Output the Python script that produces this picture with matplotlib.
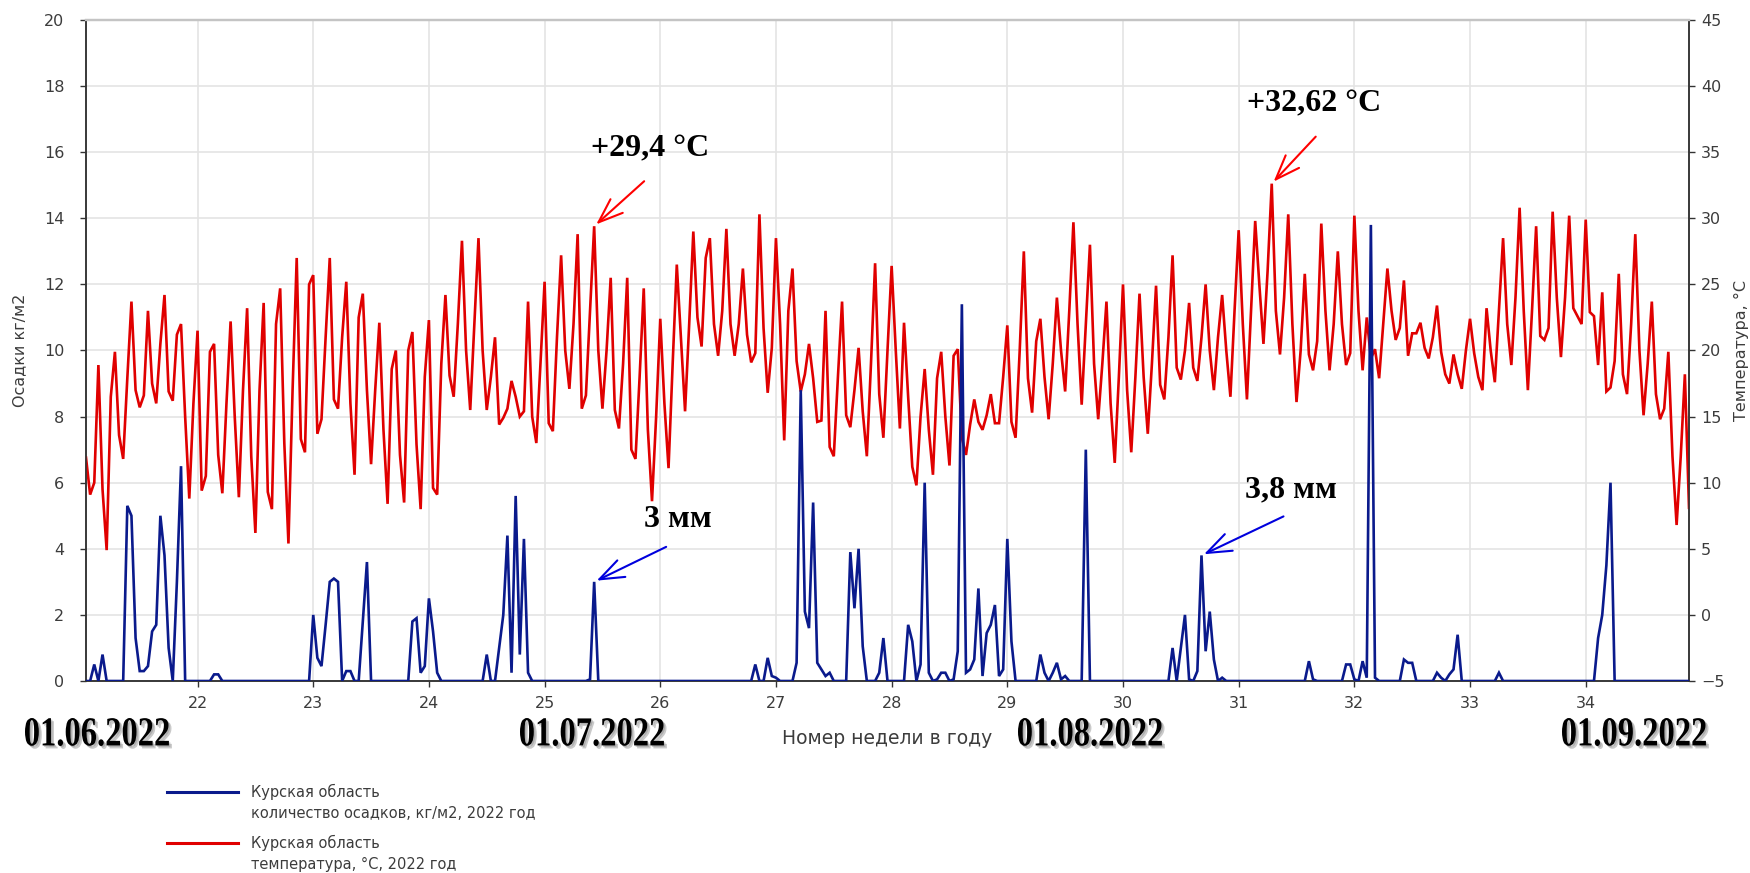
import numpy as np
import matplotlib
matplotlib.use("Agg")
import matplotlib.pyplot as plt
import matplotlib.transforms as mtransforms
from matplotlib.textpath import TextPath
from matplotlib.patches import PathPatch
from matplotlib.font_manager import FontProperties
from matplotlib.lines import Line2D

# ---------------------------------------------------------------------------
#  Data: Курская область, summer 2022, four observations per day
# ---------------------------------------------------------------------------
FIRST_WEEK = 21
OBS_PER_WEEK = 28

# air temperature, °C (one row = one day)
TEMP_C = [
    11.9, 9.1, 10.0, 18.9,
    9.5, 4.9, 16.5, 19.9,
    13.6, 11.8, 17.9, 23.7,
    17.0, 15.7, 16.6, 23.0,
    17.5, 16.0, 20.5, 24.2,
    16.9, 16.2, 21.2, 22.0,
    15.0, 8.8, 16.0, 21.5,
    9.4, 10.5, 19.9, 20.5,
    12.1, 9.2, 16.0, 22.2,
    15.0, 8.9, 17.0, 23.2,
    12.0, 6.2, 17.0, 23.6,
    9.3, 8.0, 22.0, 24.7,
    13.0, 5.4, 17.0, 27.0,
    13.3, 12.3, 25.0, 25.7,
    13.7, 14.8, 21.0, 27.0,
    16.3, 15.6, 21.0, 25.2,
    16.0, 10.6, 22.5, 24.3,
    17.0, 11.4, 17.0, 22.1,
    14.0, 8.4, 18.6, 20.0,
    12.1, 8.5, 20.0, 21.4,
    12.9, 8.0, 18.0, 22.3,
    9.6, 9.1, 19.0, 24.2,
    18.1, 16.5, 22.0, 28.3,
    20.0, 15.5, 22.0, 28.5,
    20.0, 15.5, 18.0, 21.0,
    14.4, 14.9, 15.6, 17.7,
    16.5, 15.0, 15.4, 23.7,
    15.0, 13.0, 19.0, 25.2,
    14.5, 13.9, 21.0, 27.2,
    20.0, 17.1, 22.0, 28.8,
    15.6, 16.6, 23.0, 29.4,
    20.0, 15.6, 20.0, 25.5,
    15.5, 14.1, 19.0, 25.5,
    12.5, 11.8, 18.0, 24.7,
    14.0, 8.6, 15.0, 22.4,
    16.0, 11.1, 19.0, 26.5,
    21.0, 15.4, 22.0, 29.0,
    22.5, 20.3, 27.0, 28.5,
    22.0, 19.6, 23.0, 29.2,
    22.0, 19.6, 22.0, 26.2,
    21.2, 19.1, 19.8, 30.3,
    21.7, 16.8, 20.2, 28.5,
    22.0, 13.2, 23.0, 26.2,
    19.2, 16.9, 18.2, 20.5,
    17.9, 14.6, 14.7, 23.0,
    12.7, 12.0, 18.0, 23.7,
    15.1, 14.2, 17.0, 20.2,
    15.4, 12.0, 19.0, 26.6,
    16.7, 13.4, 20.0, 26.4,
    20.0, 14.1, 22.1, 16.5,
    11.2, 9.8, 15.0, 18.6,
    14.0, 10.6, 17.9, 19.9,
    15.0, 11.3, 19.6, 20.1,
    13.4, 12.1, 14.4, 16.3,
    14.6, 14.0, 15.1, 16.7,
    14.5, 14.5, 18.0, 21.9,
    14.6, 13.4, 20.0, 27.5,
    17.9, 15.3, 20.7, 22.4,
    18.0, 14.8, 19.0, 24.0,
    20.0, 16.9, 23.0, 29.7,
    22.0, 15.9, 22.0, 28.0,
    19.0, 14.8, 19.0, 23.7,
    16.0, 11.5, 18.0, 25.0,
    17.0, 12.3, 18.0, 24.3,
    18.0, 13.7, 19.0, 24.9,
    17.4, 16.3, 21.0, 27.2,
    18.7, 17.8, 20.0, 23.6,
    18.7, 17.7, 21.0, 25.0,
    20.0, 17.0, 21.0, 24.2,
    20.0, 16.5, 23.0, 29.1,
    22.0, 16.3, 23.0, 29.8,
    25.0, 20.5, 26.0, 32.62,
    23.0, 19.7, 24.0, 30.3,
    22.0, 16.1, 20.0, 25.8,
    19.7, 18.5, 20.7, 29.6,
    23.0, 18.5, 22.0, 27.5,
    22.0, 18.9, 19.8, 30.2,
    23.0, 18.5, 22.5, 19.4,
    20.1, 17.9, 22.0, 26.2,
    23.0, 20.8, 21.7, 25.3,
    19.6, 21.3, 21.3, 22.1,
    20.2, 19.4, 21.0, 23.4,
    19.9, 18.2, 17.5, 19.7,
    18.2, 17.1, 20.0, 22.4,
    19.8, 18.0, 17.0, 23.2,
    20.0, 17.6, 23.0, 28.5,
    22.0, 18.9, 24.0, 30.8,
    23.0, 17.0, 23.0, 29.4,
    21.1, 20.8, 21.7, 30.5,
    24.0, 19.5, 24.0, 30.2,
    23.2, 22.6, 22.0, 29.9,
    22.9, 22.6, 18.9, 24.4,
    16.9, 17.2, 19.2, 25.8,
    18.2, 16.7, 22.0, 28.8,
    20.0, 15.1, 19.0, 23.7,
    16.7, 14.8, 15.6, 19.9,
    12.0, 6.8, 12.0, 18.2,
    8.1,
]

# precipitation, kg/m2 (one row = one day)
PRECIP_MM = [
    0, 0, 0.5, 0,
    0.8, 0, 0, 0,
    0, 0, 5.3, 5.0,
    1.3, 0.3, 0.3, 0.45,
    1.5, 1.7, 5.0, 3.8,
    1.0, 0, 3.0, 6.5,
    0, 0, 0, 0,
    0, 0, 0, 0.2,
    0.2, 0, 0, 0,
    0, 0, 0, 0,
    0, 0, 0, 0,
    0, 0, 0, 0,
    0, 0, 0, 0,
    0, 0, 0, 2.0,
    0.7, 0.45, 1.7, 3.0,
    3.1, 3.0, 0, 0.3,
    0.3, 0, 0, 1.8,
    3.6, 0, 0, 0,
    0, 0, 0, 0,
    0, 0, 0, 1.8,
    1.9, 0.25, 0.45, 2.5,
    1.5, 0.25, 0, 0,
    0, 0, 0, 0,
    0, 0, 0, 0,
    0, 0.8, 0, 0,
    1.0, 2.0, 4.4, 0.25,
    5.6, 0.8, 4.3, 0.25,
    0, 0, 0, 0,
    0, 0, 0, 0,
    0, 0, 0, 0,
    0, 0, 0.05, 3.0,
    0, 0, 0, 0,
    0, 0, 0, 0,
    0, 0, 0, 0,
    0, 0, 0, 0,
    0, 0, 0, 0,
    0, 0, 0, 0,
    0, 0, 0, 0,
    0, 0, 0, 0,
    0, 0, 0, 0,
    0, 0, 0.5, 0,
    0, 0.7, 0.15, 0.1,
    0, 0, 0, 0,
    0.55, 8.8, 2.1, 1.6,
    5.4, 0.55, 0.35, 0.15,
    0.25, 0, 0, 0,
    0, 3.9, 2.2, 4.0,
    1.05, 0, 0, 0,
    0.25, 1.3, 0, 0,
    0, 0, 0, 1.7,
    1.2, 0, 0.5, 6.0,
    0.25, 0, 0.05, 0.25,
    0.25, 0, 0.05, 0.9,
    11.4, 0.25, 0.35, 0.65,
    2.8, 0.15, 1.45, 1.7,
    2.3, 0.15, 0.35, 4.3,
    1.2, 0, 0, 0,
    0, 0, 0, 0.8,
    0.25, 0, 0.25, 0.55,
    0.05, 0.15, 0, 0,
    0, 0, 7.0, 0,
    0, 0, 0, 0,
    0, 0, 0, 0,
    0, 0, 0, 0,
    0, 0, 0, 0,
    0, 0, 0, 1.0,
    0, 1.0, 2.0, 0.05,
    0, 0.3, 3.8, 0.9,
    2.1, 0.65, 0, 0.1,
    0, 0, 0, 0,
    0, 0, 0, 0,
    0, 0, 0, 0,
    0, 0, 0, 0,
    0, 0, 0, 0,
    0.6, 0.05, 0, 0,
    0, 0, 0, 0,
    0, 0.5, 0.5, 0.05,
    0, 0.6, 0.1, 13.8,
    0.1, 0, 0, 0,
    0, 0, 0, 0.65,
    0.55, 0.55, 0, 0,
    0, 0, 0, 0.25,
    0.1, 0, 0.2, 0.35,
    1.4, 0, 0, 0,
    0, 0, 0, 0,
    0, 0, 0.25, 0,
    0, 0, 0, 0,
    0, 0, 0, 0,
    0, 0, 0, 0,
    0, 0, 0, 0,
    0, 0, 0, 0,
    0, 0, 1.3, 2.0,
    3.5, 6.0, 0, 0,
    0, 0, 0, 0,
    0, 0, 0, 0,
    0, 0, 0, 0,
    0, 0, 0, 0,
    0,
]

WEEK_TICKS = list(range(22, 35))
PRECIP_TICKS = list(range(0, 21, 2))
TEMP_TICKS = list(range(-5, 46, 5))

# callouts: (label, observation number)
TEMP_CALLOUTS = [("+29,4 °C", 124), ("+32,62 °C", 288)]
PRECIP_CALLOUTS = [("3 мм", 124), ("3,8 мм", 271)]

MONTH_LABELS = ["01.06.2022", "01.07.2022", "01.08.2022", "01.09.2022"]

LEGEND_LABELS = [
    "Курская область\nколичество осадков, кг/м2, 2022 год",
    "Курская область\nтемпература, °C, 2022 год",
]

BLUE = "#0a1a8c"
RED = "#e00000"
GRID = "#e4e4e4"
TEXT = "#3c3c3c"

W, H = 1750, 873


def condensed_date(fig, text, left_px, bottom_px, height_px=28, squeeze=0.79):
    """Bold narrow serif caption with a soft grey drop shadow."""
    fp = FontProperties(family="Liberation Serif", weight="bold")
    path = TextPath((0, 0), text, size=100, prop=fp)
    ext = path.get_extents()
    s = height_px / ext.height
    base = mtransforms.Affine2D().translate(-ext.x0, -ext.y0).scale(s * squeeze, s)
    for dx, dy, col, alpha in [(3, -3, "#8a8a8a", 0.45), (1.5, -1.5, "#8a8a8a", 0.45),
                               (0, 0, "black", 1.0)]:
        tr = base + mtransforms.Affine2D().translate(left_px + dx, bottom_px + dy)
        fig.add_artist(PathPatch(path, transform=tr, facecolor=col,
                                 edgecolor="none", alpha=alpha))


def main():
    temp = np.array(TEMP_C)
    precip = np.array(PRECIP_MM)
    obs = np.arange(1, len(temp) + 1)
    week = FIRST_WEEK + obs / OBS_PER_WEEK

    fig = plt.figure(figsize=(W / 100, H / 100), dpi=100)
    ax_t = fig.add_axes([86 / W, 1 - 681 / H, (1689 - 86) / W, (681 - 20) / H])
    ax_p = ax_t.twinx()

    # temperature sits underneath, on the right-hand scale
    ax_t.yaxis.tick_right()
    ax_t.yaxis.set_label_position("right")
    ax_p.yaxis.tick_left()
    ax_p.yaxis.set_label_position("left")

    ax_t.plot(week, temp, color=RED, lw=1.9, solid_joinstyle="miter", zorder=3)
    ax_p.plot(week, precip, color=BLUE, lw=1.9, solid_joinstyle="miter", zorder=3)

    ax_t.set_xlim(week[0], week[-1])
    ax_t.set_ylim(-5, 45)
    ax_p.set_ylim(0, 20)
    ax_t.set_xticks(WEEK_TICKS)
    ax_t.set_yticks(TEMP_TICKS)
    ax_p.set_yticks(PRECIP_TICKS)

    ax_t.set_axisbelow(True)
    ax_t.grid(True, color=GRID, lw=1.2)

    for a in (ax_t, ax_p):
        a.tick_params(axis="both", direction="out", length=4.5, width=1.0,
                      color="#333333", labelcolor=TEXT, labelsize=11.5)
        a.spines["top"].set_color("#c4c4c4")
        a.spines["top"].set_linewidth(1.6)
        for side in ("left", "right", "bottom"):
            a.spines[side].set_color("#333333")
            a.spines[side].set_linewidth(1.1)
    ax_t.tick_params(axis="y", pad=4)
    ax_p.tick_params(axis="y", pad=11)
    ax_t.tick_params(axis="x", pad=6)

    ax_p.set_ylabel("Осадки кг/м2", fontsize=11.5, color=TEXT)
    ax_p.yaxis.label.set(ha="center", va="center")
    ax_p.yaxis.set_label_coords((20 - 86) / (1689 - 86), 0.5)
    ax_t.set_ylabel("Температура, °C", fontsize=11.5, color=TEXT)
    ax_t.yaxis.label.set(ha="center", va="center")
    ax_t.yaxis.set_label_coords((1741 - 86) / (1689 - 86), 0.5)
    ax_t.set_xlabel("Номер недели в году", fontsize=13.5, color=TEXT)
    ax_t.xaxis.label.set(va="center")
    ax_t.xaxis.set_label_coords(0.5, (681 - 739) / (681 - 20))

    # callouts: label above an arrow pointing at the value
    serif = dict(family="Liberation Serif", weight="bold", size=23)
    for (label, n), (tdx, tdy), (adx, ady) in zip(
            TEMP_CALLOUTS, [(56, 77), (42, 80)], [(50, 45), (44, 47)]):
        x, y = week[n - 1], temp[n - 1]
        ax_t.annotate("", xy=(x, y), xytext=(adx, ady), textcoords="offset pixels",
                      arrowprops=dict(arrowstyle="->,head_length=0.8,head_width=0.3",
                                      color="#ff0000", lw=1.5, mutation_scale=22,
                                      shrinkA=0, shrinkB=2))
        ax_t.annotate(label, xy=(x, y), xytext=(tdx, tdy), textcoords="offset pixels",
                      ha="center", va="center", color="black", **serif)
    for (label, n), (tdx, tdy), (adx, ady) in zip(
            PRECIP_CALLOUTS, [(84, 62), (89, 66)], [(72, 35), (82, 39)]):
        x, y = week[n - 1], precip[n - 1]
        ax_p.annotate("", xy=(x, y), xytext=(adx, ady), textcoords="offset pixels",
                      arrowprops=dict(arrowstyle="->,head_length=0.8,head_width=0.3",
                                      color="#0000dd", lw=1.5, mutation_scale=22,
                                      shrinkA=0, shrinkB=2))
        ax_p.annotate(label, xy=(x, y), xytext=(tdx, tdy), textcoords="offset pixels",
                      ha="center", va="center", color="black", **serif)

    # month markers under the week axis
    for label, left in zip(MONTH_LABELS, [25, 520, 1018, 1562]):
        condensed_date(fig, label, left, H - 746)

    # legend block
    for (label, color), y in zip(zip(LEGEND_LABELS, [BLUE, RED]), [792, 843]):
        fig.add_artist(Line2D([167 / W, 238 / W], [1 - y / H, 1 - y / H],
                              transform=fig.transFigure, color=color, lw=2.2))
        fig.text(251 / W, 1 - (y - 8) / H, label, ha="left", va="top",
                 fontsize=10.5, color=TEXT, linespacing=1.5)

    fig.savefig("out.png", dpi=100, facecolor="white")
    plt.close(fig)


if __name__ == "__main__":
    main()
